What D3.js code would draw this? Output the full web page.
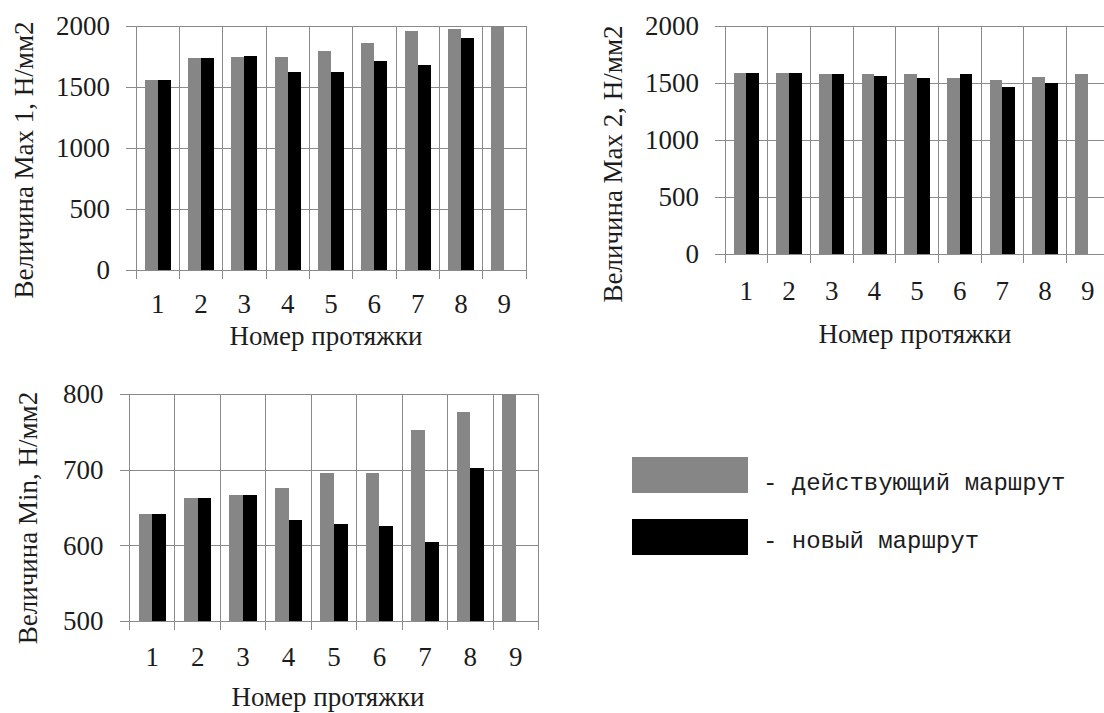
<!DOCTYPE html>
<html>
<head>
<meta charset="utf-8">
<script src="https://cdn.jsdelivr.net/npm/d3@7"></script>
<style>
  html, body { margin: 0; padding: 0; background: #ffffff; }
  svg { display: block; }
  .serif { font-family: "Liberation Serif", "DejaVu Serif", "Times New Roman", serif; }
  .mono { font-family: "Liberation Mono", "DejaVu Sans Mono", "Courier New", monospace; }
</style>
</head>
<body>
<svg id="chart" width="1104" height="713"></svg>
<script>
// ---- data ----
const categories = ["1", "2", "3", "4", "5", "6", "7", "8", "9"];
const seriesNames = ["- действующий маршрут", "- новый маршрут"];

const max1Current = [1550, 1735, 1745, 1745, 1795, 1855, 1955, 1970, 2000];
const max1New     = [1550, 1735, 1748, 1615, 1615, 1705, 1675, 1895, null];

const max2Current = [1585, 1585, 1572, 1572, 1572, 1537, 1522, 1552, 1572];
const max2New     = [1585, 1585, 1572, 1555, 1540, 1572, 1458, 1494, null];

const minCurrent  = [642, 662, 667, 676, 695, 695, 753, 776, 800];
const minNew      = [642, 662, 667, 633, 628, 626, 604, 702, null];

const maxTicks = [0, 500, 1000, 1500, 2000];
const minTicks = [500, 600, 700, 800];

const yTitleMax1 = "Величина Max 1, Н/мм2";
const yTitleMax2 = "Величина Max 2, Н/мм2";
const yTitleMin  = "Величина Min, Н/мм2";
const xTitle = "Номер протяжки";

// ---- styles ----
const GRAY = "#868686";
const BLACK = "#000000";
const GRID = "#8a8a8a";
const TEXT = "#1c1c1c";

const svg = d3.select("#chart");

function drawChart(cfg) {
  const g = svg.append("g");
  const x = d3.scaleBand().domain(categories).range([cfg.left, cfg.right]).padding(0);
  const y = d3.scaleLinear().domain([cfg.ticks[0], cfg.ticks[cfg.ticks.length - 1]]).range([cfg.bottom, cfg.top]);
  const inner = d3.scaleBand().domain([0, 1]).range([x.bandwidth() * 0.2, x.bandwidth() * 0.8]).padding(0);

  // horizontal gridlines + left tick marks + labels (via axis)
  const yAxis = d3.axisLeft(y)
    .tickValues(cfg.ticks)
    .tickSize(-(cfg.right - cfg.left + 10))
    .tickPadding(16)
    .tickFormat(d3.format("d"));
  const ya = g.append("g")
    .attr("transform", `translate(${cfg.left - 10},0)`)
    .call(yAxis);
  ya.select(".domain").remove();
  ya.attr("font-family", null).attr("font-size", null);
  ya.selectAll(".tick line").attr("stroke", GRID).attr("stroke-width", 1).attr("shape-rendering", "crispEdges");
  ya.selectAll(".tick text")
    .attr("class", "serif")
    .style("font-size", "27px").attr("fill", TEXT)
    .attr("dy", "0.33em");

  // vertical gridlines at category boundaries, extended below as ticks
  const bounds = categories.map(c => x(c)).concat([x(categories[categories.length - 1]) + x.bandwidth()]);
  g.append("g").selectAll("line").data(bounds).join("line")
    .attr("x1", d => d).attr("x2", d => d)
    .attr("y1", cfg.top).attr("y2", cfg.bottom + 9)
    .attr("stroke", GRID).attr("stroke-width", 1).attr("shape-rendering", "crispEdges");

  // bars
  const rows = categories.map((c, i) => ({ c, vals: [cfg.current[i], cfg.newer[i]] }));
  const grp = g.append("g").selectAll("g").data(rows).join("g")
    .attr("transform", d => `translate(${x(d.c)},0)`);
  grp.selectAll("rect")
    .data(d => d.vals.map((v, k) => ({ k, v })).filter(o => o.v != null))
    .join("rect")
    .attr("x", o => inner(o.k))
    .attr("width", inner.bandwidth())
    .attr("y", o => y(o.v))
    .attr("height", o => y(cfg.ticks[0]) - y(o.v))
    .attr("fill", o => o.k === 0 ? GRAY : BLACK)
    .attr("shape-rendering", "crispEdges");

  // x tick labels
  g.append("g").selectAll("text").data(categories).join("text")
    .attr("class", "serif")
    .attr("x", d => x(d) + x.bandwidth() / 2)
    .attr("y", cfg.xLabelY)
    .attr("text-anchor", "middle")
    .style("font-size", "27px").attr("fill", TEXT)
    .text(d => d);

  // x title
  g.append("text")
    .attr("class", "serif")
    .attr("x", cfg.xTitleX).attr("y", cfg.xTitleY)
    .attr("text-anchor", "middle")
    .style("font-size", "27px").attr("fill", TEXT)
    .text(xTitle);

  // y title
  g.append("text")
    .attr("class", "serif")
    .attr("transform", `translate(${cfg.yTitleX},${cfg.yTitleY}) rotate(-90)`)
    .attr("text-anchor", "middle")
    .style("font-size", "27px").attr("fill", TEXT)
    .text(cfg.yTitle);
}

drawChart({
  left: 136, right: 526, top: 25.5, bottom: 269.5,
  ticks: maxTicks, current: max1Current, newer: max1New,
  xLabelY: 313, xTitleX: 326, xTitleY: 345,
  yTitle: yTitleMax1, yTitleX: 33, yTitleY: 160
});

drawChart({
  left: 725, right: 1109, top: 25.5, bottom: 253.5,
  ticks: maxTicks, current: max2Current, newer: max2New,
  xLabelY: 300, xTitleX: 915, xTitleY: 343,
  yTitle: yTitleMax2, yTitleX: 622, yTitleY: 164
});

drawChart({
  left: 129.5, right: 538.5, top: 394, bottom: 621,
  ticks: minTicks, current: minCurrent, newer: minNew,
  xLabelY: 666, xTitleX: 328, xTitleY: 706,
  yTitle: yTitleMin, yTitleX: 37, yTitleY: 518
});

// ---- legend ----
const legendColors = [GRAY, BLACK];
const legendRectY = [457, 519];
const legendTextY = [490, 548];
const leg = svg.append("g");
leg.selectAll("rect").data(seriesNames).join("rect")
  .attr("x", 632).attr("width", 116)
  .attr("y", (d, i) => legendRectY[i]).attr("height", 36)
  .attr("fill", (d, i) => legendColors[i]);
leg.selectAll("text").data(seriesNames).join("text")
  .attr("class", "mono")
  .attr("x", 763).attr("y", (d, i) => legendTextY[i])
  .style("font-size", "24px").attr("fill", TEXT)
  .text(d => d);
</script>
</body>
</html>
